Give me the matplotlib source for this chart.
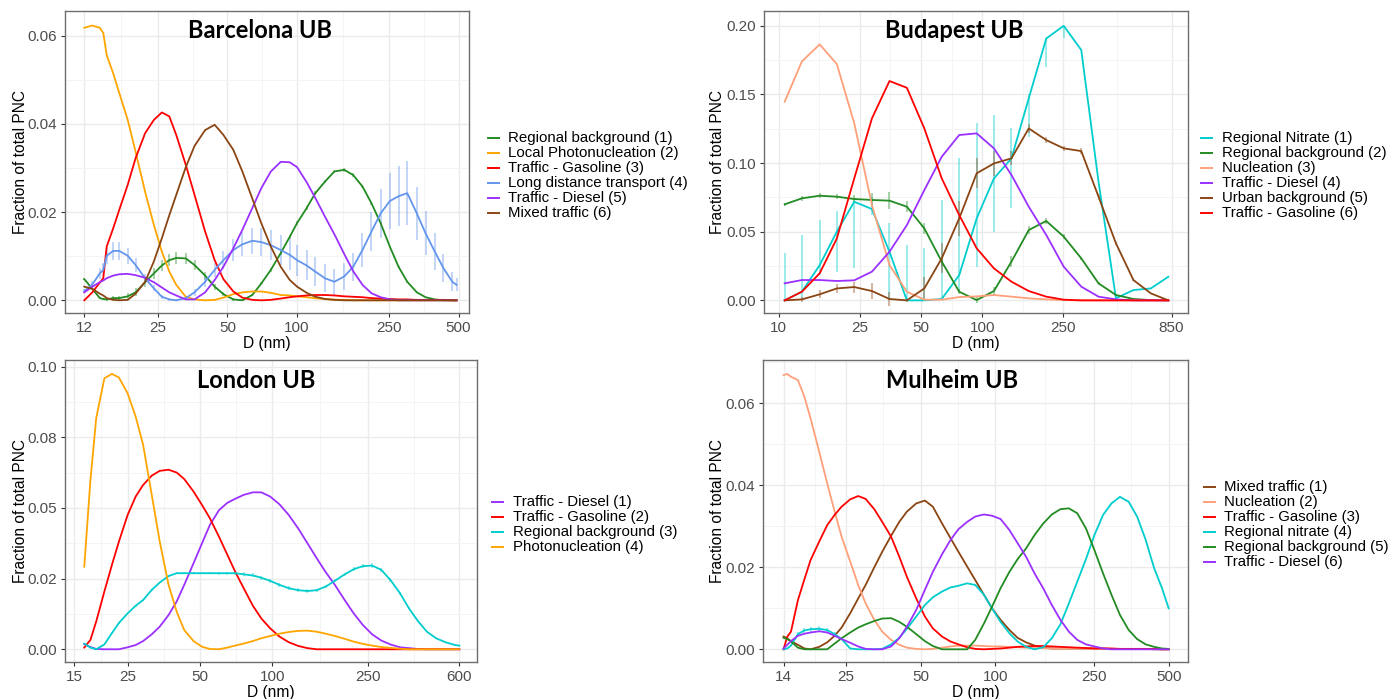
import numpy as np
import matplotlib
matplotlib.use("Agg")
import matplotlib.pyplot as plt
from matplotlib.lines import Line2D
from matplotlib.ticker import FixedLocator, FixedFormatter, NullFormatter

plt.rcParams["font.family"] = ["Liberation Sans", "DejaVu Sans"]

# ---------------------------------------------------------------- Barcelona UB
bcn_d = [12, 13, 14, 14.5, 15, 16, 17, 18.5, 20, 22, 24, 26, 28, 30, 33, 36, 40, 44, 48, 53,
         58, 64, 70, 77, 85, 93, 100, 110, 120, 132, 145, 160, 175, 192, 210, 230, 252, 275,
         300, 330, 360, 395, 430, 470, 490]
bcn_regional = [0.0048, 0.0026, 0.0005, 0.0003, 0.0002, 0.0005, 0.0005, 0.0009, 0.0018, 0.0041,
                0.0061, 0.0079, 0.0091, 0.0096, 0.0095, 0.0080, 0.0056, 0.0031, 0.0014, 0.0002,
                0.0, 0.0012, 0.0038, 0.0069, 0.0107, 0.0144, 0.0175, 0.0209, 0.0243, 0.0269,
                0.0292, 0.0296, 0.0284, 0.0258, 0.0220, 0.0175, 0.0122, 0.0076, 0.0042, 0.0018,
                0.0007, 0.0002, 0.0, 0.0, 0.0]
bcn_regional_err = [0.0003, 0.0003, 0.0003, 0.0003, 0.0003, 0.0004, 0.0005, 0.0007, 0.0009, 0.0011,
                    0.0012, 0.0013, 0.0014, 0.0014, 0.0013, 0.0011, 0.0009, 0.0007, 0.0005, 0.0003,
                    0.0002, 0.0003, 0.0004, 0.0005, 0.0005, 0.0005, 0.0005, 0.0005, 0.0004, 0.0004,
                    0.0004, 0.0004, 0.0004, 0.0003, 0.0003, 0.0003, 0.0002, 0.0002, 0.0002, 0.0001,
                    0.0001, 0.0001, 0.0, 0.0, 0.0]
bcn_photonuc = [0.0618, 0.0623, 0.0618, 0.0606, 0.0556, 0.0515, 0.0470, 0.0409, 0.0337, 0.0246,
                0.0171, 0.0110, 0.0065, 0.0035, 0.0008, 0.0002, 0.0, 0.0001, 0.0006, 0.0014,
                0.0018, 0.0020, 0.0020, 0.0017, 0.0012, 0.0011, 0.0009, 0.0007, 0.00045, 0.0003,
                0.00015, 0.0001, 0.0, 0.0, 0.0, 0.0, 0.0, 0.0, 0.0, 0.0,
                0.0, 0.0, 0.0, 0.0, 0.0]
bcn_gasoline = [0.0, 0.0018, 0.0040, 0.0050, 0.0122, 0.0163, 0.0205, 0.0262, 0.0322, 0.0379,
                0.0409, 0.0426, 0.0417, 0.0375, 0.0307, 0.0239, 0.0156, 0.0091, 0.0048, 0.0020,
                0.0006, 0.0001, 0.0, 0.0001, 0.0004, 0.0007, 0.0009, 0.0011, 0.0012, 0.0012,
                0.0011, 0.0009, 0.0008, 0.0007, 0.0005, 0.0004, 0.0003, 0.0002, 0.0002, 0.0001,
                0.0001, 0.0001, 0.0001, 0.0, 0.0]
bcn_longdist = [0.0021, 0.0036, 0.0061, 0.0069, 0.0101, 0.0112, 0.0112, 0.0101, 0.0080, 0.0050,
                0.0027, 0.0008, 0.0002, 0.0, 0.0005, 0.0018, 0.0042, 0.0069, 0.0091, 0.0114,
                0.0127, 0.0135, 0.0132, 0.0125, 0.0114, 0.0103, 0.0091, 0.0079, 0.0065, 0.0050,
                0.0042, 0.0054, 0.0076, 0.0114, 0.0156, 0.0197, 0.0225, 0.0236, 0.0243, 0.0197,
                0.0152, 0.0110, 0.0073, 0.0042, 0.0035]
bcn_longdist_err = [0.0005, 0.0008, 0.0012, 0.0015, 0.0018, 0.0020, 0.0020, 0.0018, 0.0015, 0.0010,
                    0.0007, 0.0004, 0.0003, 0.0002, 0.0004, 0.0008, 0.0012, 0.0016, 0.0020, 0.0024,
                    0.0027, 0.0030, 0.0032, 0.0034, 0.0035, 0.0035, 0.0035, 0.0034, 0.0033, 0.0032,
                    0.0030, 0.0030, 0.0032, 0.0038, 0.0045, 0.0055, 0.0063, 0.0068, 0.0072, 0.0060,
                    0.0050, 0.0042, 0.0032, 0.0022, 0.0015]
bcn_diesel = [0.0018, 0.0031, 0.0041, 0.0045, 0.0050, 0.0056, 0.0059, 0.0060, 0.0057, 0.0051,
              0.0041, 0.0029, 0.0018, 0.0011, 0.0002, 0.0002, 0.0018, 0.0046, 0.0076, 0.0118,
              0.0160, 0.0209, 0.0254, 0.0292, 0.0314, 0.0313, 0.0302, 0.0268, 0.0232, 0.0190,
              0.0150, 0.0105, 0.0066, 0.0035, 0.0016, 0.0007, 0.0002, 0.0, 0.0, 0.0,
              0.0, 0.0, 0.0, 0.0, 0.0]
bcn_mixed = [0.0031, 0.0026, 0.0015, 0.0011, 0.0005, 0.0001, 0.0, 0.0001, 0.0015, 0.0042,
             0.0088, 0.0141, 0.0193, 0.0239, 0.0302, 0.0350, 0.0386, 0.0398, 0.0375, 0.0341,
             0.0292, 0.0231, 0.0175, 0.0122, 0.0076, 0.0046, 0.0031, 0.0017, 0.0008, 0.0003,
             0.0001, 0.0, 0.0, 0.0, 0.0, 0.0, 0.0, 0.0, 0.0, 0.0,
             0.0, 0.0, 0.0, 0.0, 0.0]
bcn_labels = ["Regional background (1)", "Local Photonucleation (2)", "Traffic - Gasoline (3)",
              "Long distance transport (4)", "Traffic - Diesel (5)", "Mixed traffic (6)"]
bcn_xticks = [12, 25, 50, 100, 250, 500]

# ---------------------------------------------------------------- Budapest UB
bud_d = [10.7, 13, 15.9, 19.3, 23.5, 28.7, 35, 42.6, 51.9, 63.2, 77, 93.8, 114, 139, 169, 206,
         251, 306, 372, 453, 552, 672, 819]
bud_nitrate = [0.0, 0.0063, 0.0257, 0.0500, 0.0718, 0.0665, 0.0354, 0.0, 0.0, 0.0010, 0.0184,
               0.0597, 0.0888, 0.1034, 0.1471, 0.1907, 0.1999, 0.1823, 0.0864, 0.0015, 0.0075,
               0.0087, 0.0172]
bud_nitrate_lo = [0.0, 0.0015, 0.0184, 0.0209, 0.0233, 0.0620, 0.0, 0.0, 0.0, 0.0, 0.0063,
                  0.0245, 0.0500, 0.0670, 0.1192, 0.1701, 0.1908, 0.1823, 0.0864, 0.0015, 0.0075,
                  0.0087, 0.0172]
bud_nitrate_hi = [0.0342, 0.0476, 0.0585, 0.0653, 0.0748, 0.0756, 0.0560, 0.0403, 0.0379, 0.0730,
                  0.1039, 0.1289, 0.1349, 0.1252, 0.1500, 0.1908, 0.2000, 0.1823, 0.0864, 0.0015,
                  0.0075, 0.0087, 0.0172]
bud_regional = [0.0699, 0.0743, 0.0762, 0.0755, 0.0738, 0.0731, 0.0726, 0.0682, 0.0524, 0.0282,
                0.0063, 0.0002, 0.0068, 0.0282, 0.0512, 0.0578, 0.0464, 0.0306, 0.0124, 0.0039,
                0.0010, 0.0002, 0.0]
bud_regional_err = [0.001, 0.002, 0.002, 0.002, 0.003, 0.005, 0.006, 0.004, 0.004, 0.003, 0.002,
                    0.002, 0.003, 0.004, 0.003, 0.002, 0.002, 0.001, 0.001, 0.001, 0.0, 0.0, 0.0]
bud_nucleation = [0.1446, 0.1740, 0.1864, 0.1720, 0.1290, 0.0694, 0.0257, 0.0063, 0.0005, 0.0005,
                  0.0024, 0.0029, 0.0039, 0.0027, 0.0015, 0.0007, 0.0002, 0.0, 0.0, 0.0,
                  0.0, 0.0, 0.0]
bud_diesel = [0.0124, 0.0148, 0.0148, 0.0141, 0.0146, 0.0209, 0.0354, 0.0548, 0.0803, 0.1046,
              0.1204, 0.1216, 0.1107, 0.0913, 0.0682, 0.0476, 0.0245, 0.0100, 0.0027, 0.0007,
              0.0, 0.0, 0.0]
bud_urban = [0.0, 0.0007, 0.0044, 0.0087, 0.0097, 0.0068, 0.0010, 0.0, 0.0087, 0.0306, 0.0597,
             0.0925, 0.0997, 0.1034, 0.1252, 0.1167, 0.1107, 0.1087, 0.0755, 0.0415, 0.0148,
             0.0051, 0.0]
bud_urban_err = [0.0, 0.002, 0.003, 0.003, 0.004, 0.006, 0.005, 0.001, 0.008, 0.011, 0.013, 0.011,
                 0.009, 0.005, 0.003, 0.002, 0.002, 0.002, 0.002, 0.001, 0.001, 0.0, 0.0]
bud_gasoline = [0.0, 0.0063, 0.0197, 0.0451, 0.0888, 0.1325, 0.1597, 0.1548, 0.1252, 0.0888,
                0.0621, 0.0379, 0.0233, 0.0136, 0.0068, 0.0027, 0.0005, 0.0, 0.0, 0.0,
                0.0, 0.0, 0.0]
bud_labels = ["Regional Nitrate (1)", "Regional background (2)", "Nucleation (3)",
              "Traffic - Diesel (4)", "Urban background (5)", "Traffic - Gasoline (6)"]
bud_xticks = [10, 25, 50, 100, 250, 850]

# ---------------------------------------------------------------- London UB
lon_d = [16.5, 17.5, 18.5, 20, 21.5, 23, 25, 27, 29, 31.5, 34, 37, 40, 43, 47, 51, 55, 60, 65,
         70, 76, 83, 90, 98, 107, 117, 128, 140, 153, 167, 182, 200, 218, 238, 260, 284, 310,
         340, 370, 405, 440, 480, 525, 575, 600]
lon_diesel = [0.0018, 0.0008, 0.0001, 0.0, 0.0, 0.0, 0.0007, 0.0015, 0.0029, 0.0053,
              0.0080, 0.0121, 0.0169, 0.0228, 0.0304, 0.0375, 0.0440, 0.0492, 0.0518, 0.0532,
              0.0546, 0.0555, 0.0555, 0.0540, 0.0513, 0.0475, 0.0428, 0.0375, 0.0322, 0.0272,
              0.0228, 0.0174, 0.0127, 0.0086, 0.0053, 0.0031, 0.0017, 0.0007, 0.0004, 0.0001,
              0.0, 0.0, 0.0, 0.0, 0.0]
lon_gasoline = [0.0006, 0.0033, 0.0098, 0.0204, 0.0298, 0.0381, 0.0475, 0.0540, 0.0581, 0.0614,
                0.0631, 0.0635, 0.0625, 0.0602, 0.0558, 0.0510, 0.0463, 0.0398, 0.0334, 0.0275,
                0.0216, 0.0154, 0.0109, 0.0074, 0.0045, 0.0025, 0.0012, 0.0004, 0.0, 0.0,
                0.0, 0.0, 0.0, 0.0, 0.0, 0.0, 0.0, 0.0, 0.0, 0.0,
                0.0, 0.0, 0.0, 0.0, 0.0]
lon_regional = [0.0020, 0.0006, 0.0, 0.0017, 0.0057, 0.0093, 0.0127, 0.0154, 0.0174, 0.0210,
                0.0236, 0.0259, 0.0269, 0.0269, 0.0269, 0.0269, 0.0269, 0.0269, 0.0269, 0.0269,
                0.0265, 0.0261, 0.0253, 0.0242, 0.0228, 0.0216, 0.0209, 0.0206, 0.0209, 0.0222,
                0.0242, 0.0265, 0.0283, 0.0294, 0.0296, 0.0281, 0.0245, 0.0198, 0.0145, 0.0098,
                0.0062, 0.0039, 0.0025, 0.0015, 0.0013]
lon_regional_err = [0.0002, 0.0002, 0.0002, 0.0002, 0.0003, 0.0003, 0.0003, 0.0003, 0.0003, 0.0003,
                    0.0003, 0.0003, 0.0003, 0.0003, 0.0003, 0.0004, 0.0004, 0.0005, 0.0005, 0.0006,
                    0.0007, 0.0007, 0.0007, 0.0008, 0.0008, 0.0008, 0.0007, 0.0006, 0.0005, 0.0005,
                    0.0005, 0.0006, 0.0007, 0.0008, 0.0008, 0.0007, 0.0006, 0.0005, 0.0004, 0.0003,
                    0.0002, 0.0002, 0.0001, 0.0001, 0.0001]
lon_photonuc = [0.0292, 0.0597, 0.0817, 0.0958, 0.0974, 0.0961, 0.0905, 0.0823, 0.0723, 0.0546,
                0.0381, 0.0228, 0.0133, 0.0068, 0.0029, 0.0009, 0.0001, 0.0, 0.0006, 0.0013,
                0.0020, 0.0029, 0.0039, 0.0047, 0.0055, 0.0061, 0.0065, 0.0066, 0.0062, 0.0055,
                0.0047, 0.0037, 0.0027, 0.0019, 0.0013, 0.0008, 0.0005, 0.0002, 0.0, 0.0,
                0.0, 0.0, 0.0, 0.0, 0.0]
lon_labels = ["Traffic - Diesel (1)", "Traffic - Gasoline (2)", "Regional background (3)",
              "Photonucleation (4)"]
lon_xticks = [15, 25, 50, 100, 250, 600]

# ---------------------------------------------------------------- Mulheim UB
mul_d = [14, 14.5, 15, 16, 17, 18, 19.5, 21, 22.5, 24, 26, 28, 30, 32.5, 35, 38, 41, 44, 48, 52,
         56, 61, 66, 71, 77, 83, 90, 97, 105, 114, 123, 133, 144, 156, 169, 183, 198, 214, 232,
         251, 272, 294, 318, 345, 373, 404, 437, 470, 500]
mul_mixed = [0.0031, 0.0027, 0.0020, 0.0011, 0.0002, 0.0, 0.0006,
             0.0017, 0.0033, 0.0053, 0.0088, 0.0124, 0.0157, 0.0200,
             0.0238, 0.0277, 0.0311, 0.0336, 0.0356, 0.0363, 0.0348,
             0.0307, 0.0271, 0.0238, 0.0202, 0.0169, 0.0133, 0.0100,
             0.0072, 0.0047, 0.0028, 0.0017, 0.0009, 0.0004, 0.0002,
             0.0002, 0.0002, 0.0002, 0.0002, 0.0002, 0.0002, 0.0001,
             0.0001, 0.0001, 0.0001, 0.0001, 0.0, 0.0, 0.0]
mul_nucleation = [0.0669, 0.0672, 0.0665, 0.0657, 0.0616, 0.0563, 0.0482,
                  0.0405, 0.0336, 0.0275, 0.0214, 0.0157, 0.0112, 0.0072,
                  0.0043, 0.0023, 0.0011, 0.0004, 0.0001, 0.0, 0.0001,
                  0.0004, 0.0007, 0.0009, 0.0009, 0.0009, 0.0008, 0.0007,
                  0.0007, 0.0006, 0.0005, 0.0004, 0.0003, 0.0003, 0.0002,
                  0.0002, 0.0002, 0.0002, 0.0002, 0.0002, 0.0001, 0.0001,
                  0.0001, 0.0001, 0.0001, 0.0001, 0.0001, 0.0, 0.0]
mul_gasoline = [0.0, 0.0031, 0.0043, 0.0120, 0.0171, 0.0218, 0.0263,
                0.0303, 0.0328, 0.0348, 0.0366, 0.0374, 0.0367, 0.0342,
                0.0311, 0.0275, 0.0226, 0.0177, 0.0124, 0.0080, 0.0051,
                0.0031, 0.0019, 0.0012, 0.0005, 0.0001, 0.0, 0.0001,
                0.0002, 0.0004, 0.0006, 0.0007, 0.0008, 0.0008, 0.0007,
                0.0006, 0.0005, 0.0004, 0.0003, 0.0002, 0.0002, 0.0002,
                0.0001, 0.0001, 0.0001, 0.0001, 0.0001, 0.0, 0.0]
mul_nitrate = [0.0, 0.0002, 0.0009, 0.0037, 0.0046, 0.0049, 0.0050,
               0.0047, 0.0037, 0.0025, 0.0002, 0.0, 0.0, 0.0,
               0.0001, 0.0012, 0.0028, 0.0050, 0.0080, 0.0108, 0.0127,
               0.0141, 0.0151, 0.0155, 0.0161, 0.0157, 0.0133, 0.0100,
               0.0067, 0.0039, 0.0019, 0.0006, 0.0, 0.0005, 0.0027,
               0.0061, 0.0112, 0.0165, 0.0220, 0.0279, 0.0328, 0.0356,
               0.0372, 0.0360, 0.0324, 0.0267, 0.0198, 0.0149, 0.0100]
mul_nitrate_err = [0.0, 0.0001, 0.0002, 0.0004, 0.0006, 0.0006, 0.0006,
                   0.0006, 0.0004, 0.0002, 0.0001, 0.0, 0.0, 0.0,
                   0.0, 0.0001, 0.0001, 0.0001, 0.0001, 0.0001, 0.0001,
                   0.0001, 0.0001, 0.0001, 0.0001, 0.0001, 0.0001, 0.0001,
                   0.0001, 0.0, 0.0, 0.0, 0.0, 0.0, 0.0,
                   0.0, 0.0, 0.0, 0.0, 0.0, 0.0, 0.0,
                   0.0, 0.0, 0.0, 0.0, 0.0, 0.0, 0.0]
mul_regional = [0.0028, 0.0025, 0.0019, 0.0004, 0.0, 0.0, 0.0,
                0.0, 0.0014, 0.0027, 0.0041, 0.0053, 0.0061, 0.0069,
                0.0075, 0.0076, 0.0067, 0.0055, 0.0037, 0.0020, 0.0008,
                0.0, 0.0, 0.0, 0.0, 0.0023, 0.0063, 0.0104,
                0.0149, 0.0189, 0.0220, 0.0246, 0.0279, 0.0307, 0.0329,
                0.0342, 0.0344, 0.0332, 0.0295, 0.0242, 0.0185, 0.0133,
                0.0084, 0.0047, 0.0025, 0.0012, 0.0006, 0.0002, 0.0001]
mul_diesel = [0.0002, 0.0011, 0.0020, 0.0033, 0.0038, 0.0041, 0.0044,
              0.0041, 0.0033, 0.0025, 0.0016, 0.0007, 0.0001, 0.0,
              0.0, 0.0007, 0.0027, 0.0055, 0.0096, 0.0145, 0.0189,
              0.0232, 0.0267, 0.0293, 0.0311, 0.0324, 0.0329, 0.0326,
              0.0318, 0.0291, 0.0259, 0.0226, 0.0185, 0.0149, 0.0108,
              0.0072, 0.0043, 0.0023, 0.0012, 0.0007, 0.0002, 0.0,
              0.0, 0.0, 0.0, 0.0, 0.0, 0.0, 0.0]
mul_labels = ["Mixed traffic (1)", "Nucleation (2)", "Traffic - Gasoline (3)",
              "Regional nitrate (4)", "Regional background (5)", "Traffic - Diesel (6)"]
mul_xticks = [14, 25, 50, 100, 250, 500]

# ---------------------------------------------------------------- styling
GREEN, ORANGE, RED, BLUE = "#228B22", "#FFA500", "#FF0000", "#6495ED"
PURPLE, BROWN, SALMON, CYAN = "#9B30FF", "#8B4513", "#FFA07A", "#00CDCD"

W, H = 1397, 699
fig = plt.figure(figsize=(W / 100, H / 100), dpi=100)
fig.patch.set_facecolor("white")


def px_axes(left, top, right, bottom):
    return fig.add_axes([left / W, 1 - bottom / H, (right - left) / W, (bottom - top) / H])


def minor_mids(ticks, lo, hi):
    t = np.asarray(ticks, float)
    step = t[1] - t[0]
    ext = np.concatenate([[t[0] - step], t, [t[-1] + step]])
    mids = (ext[:-1] + ext[1:]) / 2
    return [m for m in mids if lo < m < hi]


def draw_panel(ax, d, lines, xticks, xlim, yticks, ylabels, ylim, ylab_x):
    ax.set_xscale("log")
    for y, color, err in lines:
        if err is not None:
            lo, hi = err
            ax.vlines(d, lo, hi, colors=color, alpha=0.5, lw=1.1, zorder=2)
        ax.plot(d, y, color=color, lw=1.3, zorder=3, solid_joinstyle="round")
    ax.set_xlim(*xlim)
    ax.set_ylim(*ylim)
    ax.xaxis.set_major_locator(FixedLocator(xticks))
    ax.xaxis.set_major_formatter(FixedFormatter([str(t) for t in xticks]))
    lx = np.log10(xticks)
    ax.xaxis.set_minor_locator(FixedLocator(10 ** ((lx[:-1] + lx[1:]) / 2)))
    ax.xaxis.set_minor_formatter(NullFormatter())
    ax.yaxis.set_major_locator(FixedLocator(yticks))
    ax.yaxis.set_major_formatter(FixedFormatter(ylabels))
    ax.yaxis.set_minor_locator(FixedLocator(minor_mids(yticks, *ylim)))
    ax.grid(which="major", color="#EBEBEB", lw=1.0)
    ax.grid(which="minor", color="#F3F3F3", lw=0.6)
    ax.set_axisbelow(True)
    ax.tick_params(which="major", direction="out", length=3, width=0.8, color="#333333",
                   labelcolor="#4D4D4D", labelsize=11, pad=2.5)
    ax.tick_params(which="minor", length=0)
    for sp in ax.spines.values():
        sp.set_color("#6E6E6E")
        sp.set_linewidth(1.0)
    ax.set_xlabel("D (nm)", fontsize=11.2)
    ax.set_ylabel("Fraction of total PNC", fontsize=11.2)
    ax.xaxis.set_label_coords(0.5, -0.1)
    ax.xaxis.label.set_va("center")
    ax.yaxis.set_label_coords(ylab_x, 0.5)
    ax.yaxis.label.set_va("center")


def panel_title(text, x, y):
    fig.text(x / W, 1 - y / H, text, ha="center", va="center", fontsize=17,
             fontweight="bold", family=["Lato", "DejaVu Sans"], color="black")


def panel_legend(labels, colors, key_x0, key_x1, text_x, y0, dy=15):
    for i, (lab, col) in enumerate(zip(labels, colors)):
        yy = 1 - (y0 + i * dy) / H
        fig.add_artist(Line2D([key_x0 / W, key_x1 / W], [yy, yy], color=col, lw=1.4,
                              transform=fig.transFigure))
        fig.text(text_x / W, yy, lab, ha="left", va="center", fontsize=10.8, color="black")


def bounds(y, e):
    y = np.asarray(y)
    e = np.asarray(e)
    return (y - e, y + e)


# Barcelona
ax1 = px_axes(65, 11, 469, 313)
bcn_colors = [GREEN, ORANGE, RED, BLUE, PURPLE, BROWN]
draw_panel(ax1, bcn_d,
           [(bcn_regional, GREEN, bounds(bcn_regional, bcn_regional_err)),
            (bcn_photonuc, ORANGE, None),
            (bcn_gasoline, RED, None),
            (bcn_longdist, BLUE, bounds(bcn_longdist, bcn_longdist_err)),
            (bcn_diesel, PURPLE, None),
            (bcn_mixed, BROWN, None)],
           bcn_xticks, (9.9, 555), [0, 0.02, 0.04, 0.06], ["0.00", "0.02", "0.04", "0.06"],
           (-0.00288, 0.0656), -0.111)
panel_title("Barcelona UB", 260, 30)
panel_legend(bcn_labels, bcn_colors, 488, 499, 508, 138)

# Budapest
ax2 = px_axes(764, 11, 1188, 313)
bud_colors = [CYAN, GREEN, SALMON, PURPLE, BROWN, RED]
draw_panel(ax2, bud_d,
           [(bud_nitrate, CYAN, (bud_nitrate_lo, bud_nitrate_hi)),
            (bud_regional, GREEN, bounds(bud_regional, bud_regional_err)),
            (bud_nucleation, SALMON, None),
            (bud_diesel, PURPLE, None),
            (bud_urban, BROWN, bounds(bud_urban, bud_urban_err)),
            (bud_gasoline, RED, None)],
           bud_xticks, (8.47, 1023), [0, 0.05, 0.10, 0.15, 0.20],
           ["0.00", "0.05", "0.10", "0.15", "0.20"], (-0.0092, 0.2107), -0.1085)
panel_title("Budapest UB", 954, 30)
panel_legend(bud_labels, bud_colors, 1201, 1212, 1222, 138)

# London
ax3 = px_axes(65, 360, 477, 662)
lon_colors = [PURPLE, RED, CYAN, ORANGE]
draw_panel(ax3, lon_d,
           [(lon_diesel, PURPLE, None),
            (lon_gasoline, RED, None),
            (lon_regional, CYAN, bounds(lon_regional, lon_regional_err)),
            (lon_photonuc, ORANGE, None)],
           lon_xticks, (13.72, 710.6), [0, 0.025, 0.05, 0.075, 0.10],
           ["0.00", "0.02", "0.05", "0.08", "0.10"], (-0.0045, 0.1023), -0.109)
panel_title("London UB", 256, 381)
panel_legend(lon_labels, lon_colors, 492, 503, 513, 502)

# Mulheim
ax4 = px_axes(763, 360, 1188, 662)
mul_colors = [BROWN, SALMON, RED, CYAN, GREEN, PURPLE]
draw_panel(ax4, mul_d,
           [(mul_mixed, BROWN, None),
            (mul_nucleation, SALMON, None),
            (mul_gasoline, RED, None),
            (mul_nitrate, CYAN, bounds(mul_nitrate, mul_nitrate_err)),
            (mul_regional, GREEN, None),
            (mul_diesel, PURPLE, None)],
           mul_xticks, (11.57, 598.3), [0, 0.02, 0.04, 0.06], ["0.00", "0.02", "0.04", "0.06"],
           (-0.0031, 0.0706), -0.106)
panel_title("Mulheim UB", 952, 381)
panel_legend(mul_labels, mul_colors, 1204, 1215, 1224, 487)

fig.savefig("out.png", dpi=100, facecolor="white")
